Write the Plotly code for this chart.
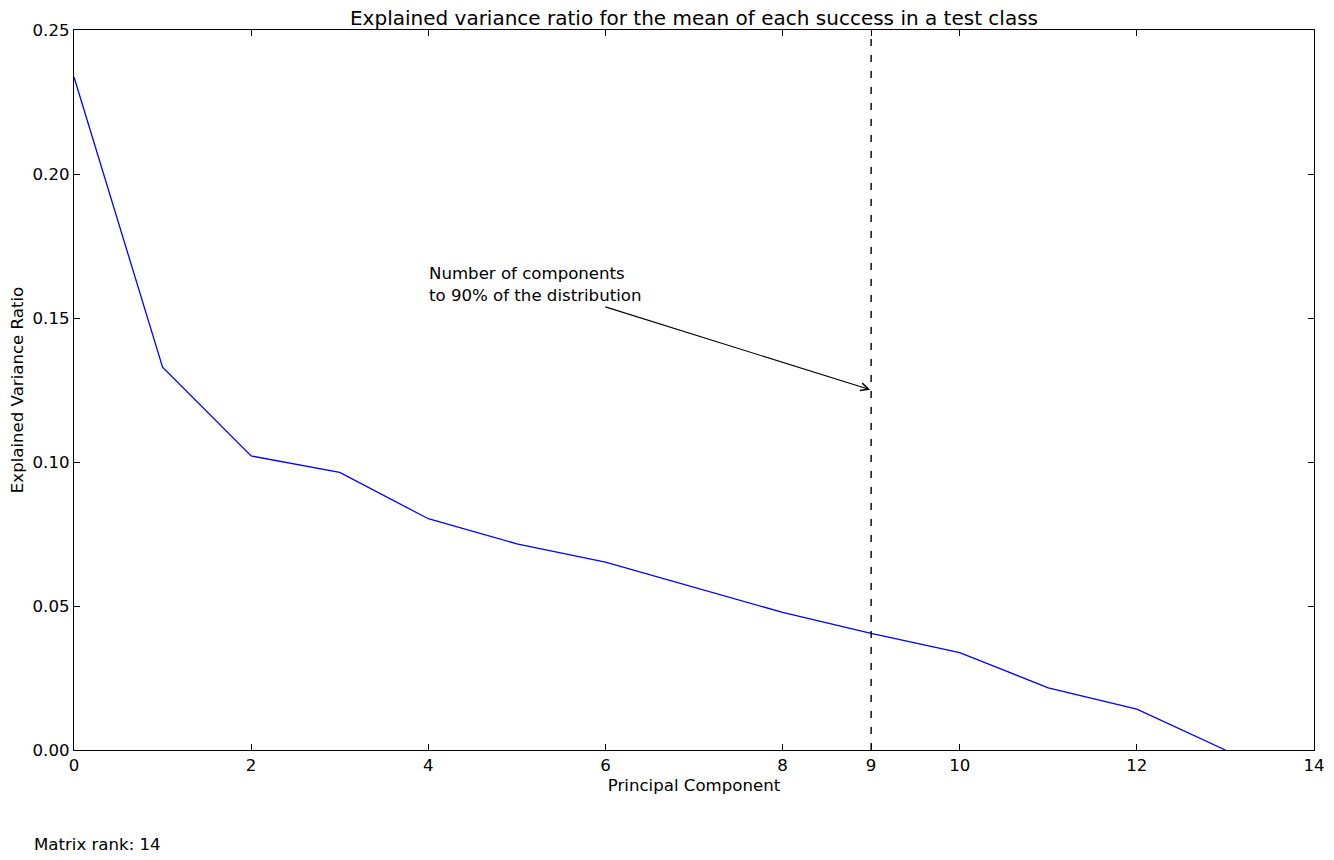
import plotly.graph_objects as go

components = list(range(14))
variance_ratio = [0.2337, 0.1329, 0.1021, 0.0964, 0.0803, 0.0716, 0.0652,
                  0.0565, 0.0478, 0.0405, 0.0338, 0.0216, 0.0142, 0.0]
x_ticks = [0, 2, 4, 6, 8, 9, 10, 12, 14]
y_ticks = [0.0, 0.05, 0.10, 0.15, 0.20, 0.25]
n_components_90 = 9
arrow_target_y = 0.125
text_center = (5.205, 0.1615)
matrix_rank = 14

FONT = "DejaVu Sans"
FS = 16.6

fig = go.Figure()
fig.add_trace(go.Scatter(x=components, y=variance_ratio, mode="lines",
                         line=dict(color="#0000ff", width=1.3),
                         showlegend=False, hoverinfo="skip"))

fig.add_shape(type="line", x0=n_components_90, x1=n_components_90,
              xref="x", yref="paper", y0=0, y1=1,
              line=dict(color="black", width=1.4, dash="7px,9px"))

fig.add_annotation(x=n_components_90, y=arrow_target_y, xref="x", yref="y",
                   ax=text_center[0], ay=text_center[1], axref="x", ayref="y",
                   text="Number of components<br>to 90% of the distribution",
                   align="left", showarrow=True, arrowhead=5, arrowsize=1.4,
                   arrowwidth=1.1, arrowcolor="black", standoff=1,
                   font=dict(family=FONT, size=FS, color="black"))

fig.add_annotation(x=-0.034, y=-0.1306, xref="paper", yref="paper",
                   xanchor="left", yanchor="middle", showarrow=False,
                   text=f"Matrix rank: {matrix_rank}",
                   font=dict(family=FONT, size=FS, color="black"))

axis_common = dict(showline=True, linecolor="black", linewidth=1.3, mirror="ticks",
                   ticks="inside", ticklen=6, tickwidth=1, tickcolor="black",
                   showgrid=False, zeroline=False, automargin=False,
                   tickfont=dict(family=FONT, size=FS, color="black"))

fig.update_xaxes(range=[0, 14], tickmode="array", tickvals=x_ticks,
                 ticktext=[str(v) for v in x_ticks],
                 title=dict(text="Principal Component", standoff=5,
                            font=dict(family=FONT, size=FS, color="black")),
                 **axis_common)
fig.update_yaxes(range=[0, 0.25], tickmode="array", tickvals=y_ticks,
                 ticktext=[f"{v:.2f}" for v in y_ticks],
                 title=dict(text="Explained Variance Ratio", standoff=8,
                            font=dict(family=FONT, size=FS, color="black")),
                 **axis_common)

W, H = 1318, 844
fig.update_layout(
    width=W, height=H,
    margin=dict(l=66, r=12, t=22, b=102, autoexpand=False),
    paper_bgcolor="white", plot_bgcolor="white",
    title=dict(text="Explained variance ratio for the mean of each success in a test class",
               x=0.5, xref="paper", xanchor="center", y=1 - 10 / H, yanchor="middle",
               automargin=False,
               font=dict(family=FONT, size=20, color="black")),
    font=dict(family=FONT, color="black"),
)

fig.write_html("out.html")
